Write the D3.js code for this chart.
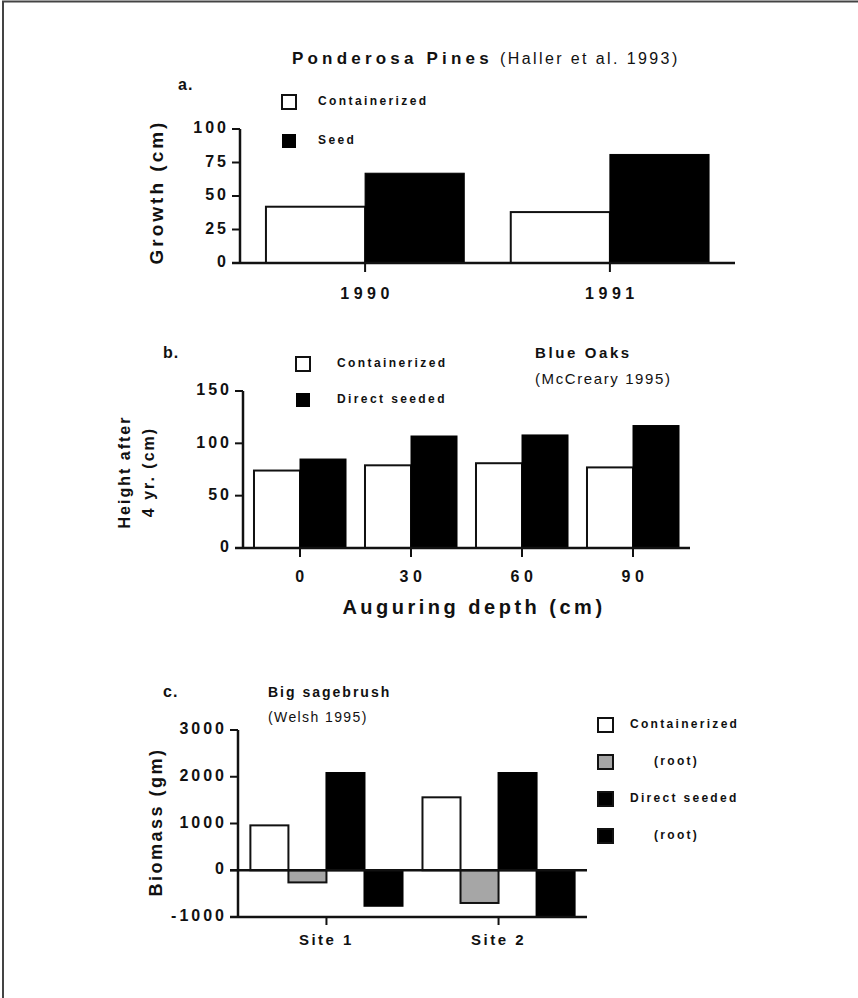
<!DOCTYPE html>
<html>
<head>
<meta charset="utf-8">
<script src="https://cdn.jsdelivr.net/npm/d3@7"></script>
<style>
  body { margin: 0; background: #fff; }
  text { font-family: "Liberation Sans", Arial, sans-serif; fill: #111; }
</style>
</head>
<body>
<script>
// panel a: Ponderosa pines
const yearsA = ["1990", "1991"]
const containerA = [42, 38]
const seedA = [67, 81]
const ticksA = [0, 25, 50, 75, 100]

// panel b: Blue oaks
const depthsB = ["0", "30", "60", "90"]
const containerB = [74, 79, 81, 77]
const seededB = [85, 107, 108, 117]
const ticksB = [0, 50, 100, 150]

// panel c: Big sagebrush
const sitesC = ["Site 1", "Site 2"]
const containerC = [960, 1560]
const containerRootC = [-260, -700]
const seededC = [2080, 2080]
const seededRootC = [-760, -1000]
const ticksC = [-1000, 0, 1000, 2000, 3000]

const svg = d3.select("body").append("svg")
    .attr("width", 858)
    .attr("height", 998)

// page frame
svg.append("path")
    .attr("d", "M3,998 L3,1.5 L858,1.5")
    .attr("fill", "none")
    .attr("stroke", "#444")
    .attr("stroke-width", 2)

function txt(x, y, s, size, opts = {}) {
    return svg.append("text")
        .attr("x", x).attr("y", y)
        .attr("font-size", size)
        .attr("font-weight", opts.weight || "bold")
        .attr("letter-spacing", opts.ls != null ? opts.ls : 2)
        .attr("text-anchor", opts.anchor || "start")
        .attr("dominant-baseline", "middle")
        .text(s)
}

function yAxis(g, y, ticks, x0) {
    g.append("line")
        .attr("x1", x0).attr("x2", x0)
        .attr("y1", y(ticks[ticks.length - 1])).attr("y2", y(ticks[0]))
        .attr("stroke", "#111").attr("stroke-width", 2.5)
    ticks.forEach(t => {
        g.append("line")
            .attr("x1", x0 - 8).attr("x2", x0)
            .attr("y1", y(t)).attr("y2", y(t))
            .attr("stroke", "#111").attr("stroke-width", 2)
        txt(x0 - 11, y(t), t, 16, {anchor: "end", ls: 3})
    })
}

// ---------- panel a ----------
let xA = d3.scaleBand().domain(yearsA).range([240, 735]).paddingInner(0.19).paddingOuter(0.106)
let yA = d3.scaleLinear().domain([0, 100]).range([263, 129])
let gA = svg.append("g")

gA.selectAll("rect.c").data(yearsA).enter().append("rect")
    .attr("x", d => xA(d))
    .attr("y", (d, i) => yA(containerA[i]))
    .attr("width", xA.bandwidth() / 2)
    .attr("height", (d, i) => yA(0) - yA(containerA[i]))
    .attr("fill", "white").attr("stroke", "#111").attr("stroke-width", 2)
gA.selectAll("rect.s").data(yearsA).enter().append("rect")
    .attr("x", d => xA(d) + xA.bandwidth() / 2)
    .attr("y", (d, i) => yA(seedA[i]))
    .attr("width", xA.bandwidth() / 2)
    .attr("height", (d, i) => yA(0) - yA(seedA[i]))
    .attr("fill", "#000").attr("stroke", "#000").attr("stroke-width", 1)

yAxis(gA, yA, ticksA, 240)
gA.append("line").attr("x1", 232).attr("x2", 735).attr("y1", yA(0)).attr("y2", yA(0))
    .attr("stroke", "#111").attr("stroke-width", 2.5)
yearsA.forEach(d => {
    let cx = xA(d) + xA.bandwidth() / 2
    gA.append("line").attr("x1", cx).attr("x2", cx).attr("y1", yA(0)).attr("y2", yA(0) + 9)
        .attr("stroke", "#111").attr("stroke-width", 2)
    txt(cx + 2, 295, d, 16, {anchor: "middle", ls: 4.5})
})

txt(292, 60, "Ponderosa Pines", 17, {ls: 4.2})
txt(500, 60, "(Haller et al. 1993)", 16, {ls: 2.4, weight: "normal"})
txt(178, 86, "a.", 16, {ls: 1})
gA.append("rect").attr("x", 282).attr("y", 95).attr("width", 14).attr("height", 14)
    .attr("fill", "white").attr("stroke", "#111").attr("stroke-width", 2)
gA.append("rect").attr("x", 282).attr("y", 134).attr("width", 14).attr("height", 14)
    .attr("fill", "#000")
txt(318, 102, "Containerized", 12, {ls: 2.4})
txt(318, 141, "Seed", 12, {ls: 2.4})
svg.append("text")
    .attr("transform", "translate(158,192) rotate(-90)")
    .attr("font-size", 19).attr("font-weight", "bold").attr("letter-spacing", 3)
    .attr("text-anchor", "middle").attr("dominant-baseline", "middle")
    .text("Growth (cm)")

// ---------- panel b ----------
let xB = d3.scaleBand().domain(depthsB).range([243, 690]).paddingInner(0.171).paddingOuter(0.099)
let yB = d3.scaleLinear().domain([0, 150]).range([548, 391])
let gB = svg.append("g")

gB.selectAll("rect.c").data(depthsB).enter().append("rect")
    .attr("x", d => xB(d))
    .attr("y", (d, i) => yB(containerB[i]))
    .attr("width", xB.bandwidth() / 2)
    .attr("height", (d, i) => yB(0) - yB(containerB[i]))
    .attr("fill", "white").attr("stroke", "#111").attr("stroke-width", 2)
gB.selectAll("rect.s").data(depthsB).enter().append("rect")
    .attr("x", d => xB(d) + xB.bandwidth() / 2)
    .attr("y", (d, i) => yB(seededB[i]))
    .attr("width", xB.bandwidth() / 2)
    .attr("height", (d, i) => yB(0) - yB(seededB[i]))
    .attr("fill", "#000").attr("stroke", "#000").attr("stroke-width", 1)

yAxis(gB, yB, ticksB, 243)
gB.append("line").attr("x1", 235).attr("x2", 690).attr("y1", yB(0)).attr("y2", yB(0))
    .attr("stroke", "#111").attr("stroke-width", 2.5)
depthsB.forEach(d => {
    let cx = xB(d) + xB.bandwidth() / 2
    gB.append("line").attr("x1", cx).attr("x2", cx).attr("y1", yB(0)).attr("y2", yB(0) + 9)
        .attr("stroke", "#111").attr("stroke-width", 2)
    txt(cx + 2, 578, d, 16, {anchor: "middle", ls: 4.5})
})

txt(474, 609, "Auguring depth (cm)", 20, {anchor: "middle", ls: 3.5})
txt(163, 354, "b.", 16, {ls: 1})
txt(535, 354, "Blue Oaks", 15, {ls: 2.6})
txt(535, 380, "(McCreary 1995)", 15, {ls: 1.6, weight: "normal"})
gB.append("rect").attr("x", 296).attr("y", 357).attr("width", 14).attr("height", 14)
    .attr("fill", "white").attr("stroke", "#111").attr("stroke-width", 2)
gB.append("rect").attr("x", 296).attr("y", 393).attr("width", 14).attr("height", 14)
    .attr("fill", "#000")
txt(337, 364, "Containerized", 12, {ls: 2.4})
txt(337, 400, "Direct seeded", 12, {ls: 2.4})
svg.append("text")
    .attr("transform", "translate(126,472) rotate(-90)")
    .attr("font-size", 16).attr("font-weight", "bold").attr("letter-spacing", 2)
    .attr("text-anchor", "middle").attr("dominant-baseline", "middle")
    .text("Height after")
svg.append("text")
    .attr("transform", "translate(150,472) rotate(-90)")
    .attr("font-size", 16).attr("font-weight", "bold").attr("letter-spacing", 2)
    .attr("text-anchor", "middle").attr("dominant-baseline", "middle")
    .text("4 yr. (cm)")

// ---------- panel c ----------
let xC = d3.scaleBand().domain(sitesC).range([238, 587]).paddingInner(0.116).paddingOuter(0.072)
let yC = d3.scaleLinear().domain([-1000, 3000]).range([917, 730])
let gC = svg.append("g")
let seriesC = [
    {vals: containerC, fill: "white", stroke: "#111"},
    {vals: containerRootC, fill: "#a6a6a6", stroke: "#111"},
    {vals: seededC, fill: "#000", stroke: "#000"},
    {vals: seededRootC, fill: "#000", stroke: "#000"}
]
let bw = xC.bandwidth() / 4
seriesC.forEach((s, k) => {
    gC.selectAll(null).data(sitesC).enter().append("rect")
        .attr("x", d => xC(d) + k * bw)
        .attr("y", (d, i) => yC(Math.max(0, s.vals[i])))
        .attr("width", bw)
        .attr("height", (d, i) => Math.abs(yC(s.vals[i]) - yC(0)))
        .attr("fill", s.fill).attr("stroke", s.stroke).attr("stroke-width", 2)
})

yAxis(gC, yC, ticksC, 238)
gC.append("line").attr("x1", 230).attr("x2", 587).attr("y1", yC(0)).attr("y2", yC(0))
    .attr("stroke", "#111").attr("stroke-width", 2.5)
gC.append("line").attr("x1", 230).attr("x2", 587).attr("y1", yC(-1000)).attr("y2", yC(-1000))
    .attr("stroke", "#111").attr("stroke-width", 2.5)
sitesC.forEach(d => {
    let cx = xC(d) + xC.bandwidth() / 2
    gC.append("line").attr("x1", cx).attr("x2", cx).attr("y1", yC(-1000)).attr("y2", yC(-1000) + 8)
        .attr("stroke", "#111").attr("stroke-width", 2)
    txt(cx, 941, d, 15, {anchor: "middle", ls: 2.5})
})

txt(163, 693, "c.", 16, {ls: 1})
txt(268, 693, "Big sagebrush", 14, {ls: 2})
txt(268, 718, "(Welsh 1995)", 14, {ls: 1.4, weight: "normal"})
let legC = [
    {label: "Containerized", fill: "white", dx: 0},
    {label: "(root)", fill: "#a6a6a6", dx: 24},
    {label: "Direct seeded", fill: "#000", dx: 0},
    {label: "(root)", fill: "#000", dx: 24}
]
let legY = [725, 762, 799, 836]
legC.forEach((l, i) => {
    gC.append("rect").attr("x", 598).attr("y", legY[i] - 7).attr("width", 15).attr("height", 14)
        .attr("fill", l.fill).attr("stroke", "#111").attr("stroke-width", 2)
    txt(630 + l.dx, legY[i], l.label, 12, {ls: 2.3})
})
svg.append("text")
    .attr("transform", "translate(157,822) rotate(-90)")
    .attr("font-size", 18).attr("font-weight", "bold").attr("letter-spacing", 2.5)
    .attr("text-anchor", "middle").attr("dominant-baseline", "middle")
    .text("Biomass (gm)")
</script>
</body>
</html>
